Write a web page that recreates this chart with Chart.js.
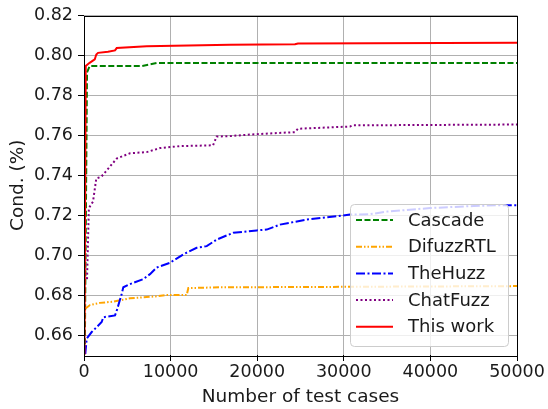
<!DOCTYPE html>
<html>
<head>
<meta charset="utf-8">
<script src="https://cdn.jsdelivr.net/npm/chart.js@4.4.1/dist/chart.umd.min.js"></script>
<style>
  body { margin: 0; background: #fff; }
  canvas { display: block; }
</style>
</head>
<body>
<canvas id="myChart" width="548" height="409"></canvas>
<script>
// series (x = number of test cases, y = coverage)
const cascadeX = [0, 350, 650, 6660, 8390, 50000];
const cascadeY = [0.60, 0.7915, 0.7947, 0.7947, 0.7962, 0.7962];

const difuzzX = [0, 80, 690, 1850, 3380, 5310, 8390, 9350, 11860, 12050, 15700, 22630, 50000];
const difuzzY = [0.666, 0.673, 0.675, 0.6761, 0.6767, 0.6784, 0.6794, 0.68, 0.68, 0.6835, 0.6839, 0.684, 0.6845];

const huzzX = [150, 310, 890, 1470, 2040, 2230, 3580, 3780, 4350, 4540, 5310, 6850, 7620, 8390, 9930, 11470, 13010, 14170, 15320, 17240, 19940, 21100, 22630, 25720, 30720, 33000, 35000, 40000, 45000, 48000, 50000];
const huzzY = [0.6505, 0.6582, 0.6615, 0.664, 0.6665, 0.6689, 0.6698, 0.6722, 0.6805, 0.6839, 0.6855, 0.688, 0.6905, 0.6938, 0.6962, 0.7004, 0.7037, 0.7045, 0.7078, 0.7112, 0.7124, 0.7128, 0.7153, 0.7178, 0.7203, 0.7205, 0.7218, 0.7236, 0.7246, 0.725, 0.725];

const chatX = [350, 450, 560, 1040, 1420, 2000, 2580, 3780, 5310, 7240, 8780, 11080, 14900, 15320, 16860, 19170, 24360, 24710, 30720, 31060, 50000];
const chatY = [0.688, 0.705, 0.7235, 0.7268, 0.7384, 0.7393, 0.7422, 0.7484, 0.751, 0.7516, 0.7536, 0.7546, 0.755, 0.7594, 0.7596, 0.7604, 0.7616, 0.7633, 0.7644, 0.765, 0.7654];

const workX = [0, 200, 650, 1240, 1420, 1620, 2770, 3580, 3780, 7240, 16860, 24360, 24710, 50000];
const workY = [0.60, 0.7947, 0.7963, 0.798, 0.8005, 0.8013, 0.8018, 0.8025, 0.8037, 0.8046, 0.8054, 0.8056, 0.806, 0.8064];

const seriesNames = ["Cascade", "DifuzzRTL", "TheHuzz", "ChatFuzz", "This work"];
const xTicks = [0, 10000, 20000, 30000, 40000, 50000];
const yTicks = [0.66, 0.68, 0.70, 0.72, 0.74, 0.76, 0.78, 0.80, 0.82];

const FONT = "'DejaVu Sans', sans-serif";

function points(xs, ys) {
  return xs.map((x, i) => ({ x: x, y: ys[i] }));
}

// black box round the plot, like matplotlib spines
const framePlugin = {
  id: "frame",
  afterDatasetsDraw: function(chart) {
    const a = chart.chartArea;
    const ctx = chart.ctx;
    ctx.save();
    ctx.strokeStyle = "#000";
    ctx.lineWidth = 1;
    ctx.strokeRect(Math.round(a.left) + 0.5, Math.round(a.top) + 0.5,
      Math.round(a.right - a.left), Math.round(a.bottom - a.top));
    ctx.restore();
  }
};

// legend in lower right corner, drawn over the lines
const legendPlugin = {
  id: "boxLegend",
  afterDatasetsDraw: function(chart) {
    const a = chart.chartArea;
    const ctx = chart.ctx;
    const w = 158, h = 142;
    const x0 = a.right - 9 - w, y0 = a.bottom - 9 - h;
    ctx.save();
    ctx.beginPath();
    ctx.roundRect(x0 + 0.5, y0 + 0.5, w, h, 4);
    ctx.fillStyle = "rgba(255,255,255,0.8)";
    ctx.fill();
    ctx.strokeStyle = "#cccccc";
    ctx.lineWidth = 1;
    ctx.stroke();
    ctx.font = "18px " + FONT;
    ctx.textBaseline = "middle";
    chart.data.datasets.forEach(function(ds, i) {
      const yy = y0 + 16 + i * 26.7;
      ctx.beginPath();
      ctx.setLineDash(ds.borderDash || []);
      ctx.strokeStyle = ds.borderColor;
      ctx.lineWidth = ds.borderWidth;
      ctx.moveTo(x0 + 6, yy);
      ctx.lineTo(x0 + 43, yy);
      ctx.stroke();
      ctx.setLineDash([]);
      ctx.fillStyle = "#1a1a1a";
      ctx.fillText(ds.label, x0 + 58, yy + 1);
    });
    ctx.restore();
  }
};

const ctx = document.getElementById("myChart").getContext("2d");
new Chart(ctx, {
  type: "line",
  data: {
    datasets: [
      { label: seriesNames[0], data: points(cascadeX, cascadeY), borderColor: "#008000", borderWidth: 2, borderDash: [6, 2.5], order: 4 },
      { label: seriesNames[1], data: points(difuzzX, difuzzY), borderColor: "#FFA500", borderWidth: 2, borderDash: [6, 2, 1.5, 2, 1.5, 2], order: 3 },
      { label: seriesNames[2], data: points(huzzX, huzzY), borderColor: "#0000FF", borderWidth: 2, borderDash: [9, 2.5, 2, 2.5], order: 2 },
      { label: seriesNames[3], data: points(chatX, chatY), borderColor: "#800080", borderWidth: 2, borderDash: [2, 2.5], order: 1 },
      { label: seriesNames[4], data: points(workX, workY), borderColor: "#FF0000", borderWidth: 2, order: 0 }
    ]
  },
  options: {
    responsive: false,
    animation: false,
    layout: { padding: { top: 14, right: 31, left: 0, bottom: 0 } },
    elements: { point: { radius: 0 }, line: { tension: 0, fill: false } },
    plugins: { legend: { display: false }, tooltip: { enabled: false } },
    scales: {
      x: {
        type: "linear",
        min: 0,
        max: 50000,
        afterBuildTicks: function(scale) { scale.ticks = xTicks.map(v => ({ value: v })); },
        afterFit: function(scale) { scale.height = 54; },
        border: { display: false },
        grid: { color: "#b0b0b0", lineWidth: 1, tickColor: "#000", tickLength: 6 },
        ticks: { color: "#1a1a1a", font: { family: FONT, size: 17.5 }, padding: 1, maxRotation: 0,
          callback: v => String(v) },
        title: { display: true, text: "Number of test cases", color: "#1a1a1a",
          font: { family: FONT, size: 18.5 }, padding: { top: 0, bottom: 1 } }
      },
      y: {
        min: 0.65,
        max: 0.82,
        afterBuildTicks: function(scale) { scale.ticks = yTicks.map(v => ({ value: v })); },
        afterFit: function(scale) { scale.width = 84; },
        border: { display: false },
        grid: { color: "#b0b0b0", lineWidth: 1, tickColor: "#000", tickLength: 6 },
        ticks: { color: "#1a1a1a", font: { family: FONT, size: 17.5 }, padding: 5,
          callback: v => v.toFixed(2) },
        title: { display: true, text: "Cond. (%)", color: "#1a1a1a",
          font: { family: FONT, size: 18.5 }, padding: { top: 7, bottom: 0 } }
      }
    }
  },
  plugins: [framePlugin, legendPlugin]
});
</script>
</body>
</html>
